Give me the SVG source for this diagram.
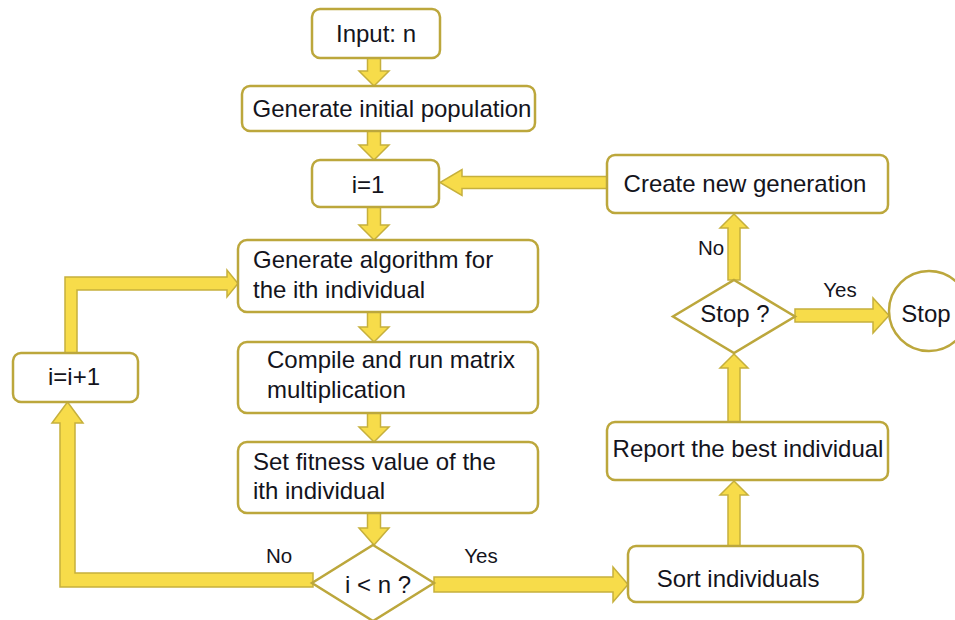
<svg xmlns="http://www.w3.org/2000/svg" width="955" height="620" viewBox="0 0 955 620">
<style>
.box{fill:#fff;stroke:#bca73c;stroke-width:2.5}
.arr{fill:#f7dc4a;stroke:#c6b03c;stroke-width:1.5;stroke-linejoin:miter}
.t{font-family:"Liberation Sans",Arial,sans-serif;font-size:24px;fill:#14141c}
.c{text-anchor:middle}
.l{font-family:"Liberation Sans",Arial,sans-serif;font-size:20.5px;fill:#14141c;text-anchor:middle}
</style>
<rect width="955" height="620" fill="#fff"/>
<g id="connectors">
<polygon class="arr" points="367.5,58 380.5,58 380.5,71 389,71 374,86 359,71 367.5,71"/>
<polygon class="arr" points="367.5,131 380.5,131 380.5,145 389,145 374,160 359,145 367.5,145"/>
<polygon class="arr" points="367.5,207 380.5,207 380.5,225 389,225 374,240 359,225 367.5,225"/>
<polygon class="arr" points="367.5,312 380.5,312 380.5,327 389,327 374,342 359,327 367.5,327"/>
<polygon class="arr" points="367.5,413 380.5,413 380.5,427 389,427 374,442 359,427 367.5,427"/>
<polygon class="arr" points="367.5,513 380.5,513 380.5,528 389,528 374,545 359,528 367.5,528"/>
<polygon class="arr" points="434,577 613,577 613,567 628,584.5 613,602 613,592 434,592"/>
<polygon class="arr" points="313,573 313,587 60,587 60,423 52,423 67.5,402 83,423 75,423 75,573"/>
<polygon class="arr" points="65,353 77,353 77,290 227,290 227,297 238,283.5 227,270 227,277 65,277"/>
<polygon class="arr" points="728,546 740,546 740,495 748,495 734,481 720,495 728,495"/>
<polygon class="arr" points="728,422 740,422 740,368 748,368 734,354 720,368 728,368"/>
<polygon class="arr" points="728,280 740,280 740,228 748,228 734,214 720,228 728,228"/>
<polygon class="arr" points="795,309 873,309 873,298 889,315.5 873,333 873,322 795,322"/>
<polygon class="arr" points="607,176.5 462,176.5 462,169.5 440,182.5 462,195.5 462,188.5 607,188.5"/>
<text class="l" x="279" y="563">No</text>
<text class="l" x="481" y="563">Yes</text>
<text class="l" x="711" y="255">No</text>
<text class="l" x="840" y="297">Yes</text>
</g>
<g id="input"><rect class="box" x="312" y="9" width="128" height="49" rx="8"/><text class="t c" x="376" y="42">Input: n</text></g>
<g id="genpop"><rect class="box" x="242" y="86" width="293" height="45" rx="8"/><text class="t c" x="392" y="117">Generate initial population</text></g>
<g id="i1"><rect class="box" x="312" y="160" width="127" height="47" rx="8"/><text class="t c" x="368" y="193">i=1</text></g>
<g id="genalg"><rect class="box" x="238" y="240" width="300" height="72" rx="9"/><text class="t" x="253" y="268">Generate algorithm for</text><text class="t" x="253" y="298">the ith individual</text></g>
<g id="compile"><rect class="box" x="238" y="342" width="300" height="71" rx="9"/><text class="t" x="267" y="368">Compile and run matrix</text><text class="t" x="267" y="398">multiplication</text></g>
<g id="fitness"><rect class="box" x="238" y="442" width="300" height="71" rx="9"/><text class="t" x="253" y="470">Set fitness value of the</text><text class="t" x="253" y="499">ith individual</text></g>
<g id="iltn"><polygon class="box" points="373,545 434,583 373,621 312,583"/><text class="t c" x="378" y="593">i &lt; n ?</text></g>
<g id="inc"><rect class="box" x="13" y="353" width="125" height="49" rx="8"/><text class="t c" x="74" y="385">i=i+1</text></g>
<g id="sort"><rect class="box" x="628" y="546" width="235" height="56" rx="8"/><text class="t c" x="738" y="587">Sort individuals</text></g>
<g id="report"><rect class="box" x="607" y="422" width="281" height="58" rx="8"/><text class="t c" x="748" y="457">Report the best individual</text></g>
<g id="stopq"><polygon class="box" points="734,280 795,316.5 734,353 673,316.5"/><text class="t c" x="735" y="322">Stop ?</text></g>
<g id="create"><rect class="box" x="607" y="155" width="281" height="58" rx="8"/><text class="t c" x="745" y="192">Create new generation</text></g>
<g id="stop"><circle class="box" cx="929" cy="311" r="40"/><text class="t c" x="926" y="322">Stop</text></g>
</svg>
